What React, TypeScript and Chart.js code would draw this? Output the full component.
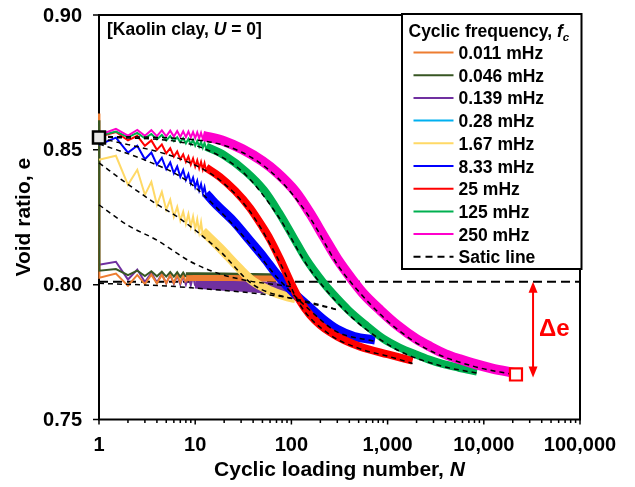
import React, { useEffect, useRef } from 'react';
import { Chart, registerables } from 'chart.js';
Chart.register(...registerables);

// ---------- axis ticks ----------
const X_TICKS = [1, 10, 100, 1000, 10000, 100000];
const X_TICK_LABELS = ['1', '10', '100', '1,000', '10,000', '100,000'];
const Y_TICKS = [0.75, 0.8, 0.85, 0.9];
const Y_TICK_LABELS = ['0.75', '0.80', '0.85', '0.90'];

// ---------- legend ----------
const LEGEND_TITLE = 'Cyclic frequency, ';
const LEGEND_LABELS = ['0.011 mHz', '0.046 mHz', '0.139 mHz', '0.28 mHz', '1.67 mHz', '8.33 mHz', '25 mHz', '125 mHz', '250 mHz'];
const SERIES_COLORS = ['#ED7D31', '#375623', '#7030A0', '#00B0F0', '#FFD966', '#0000FF', '#FF0000', '#00B050', '#FF00CC'];
const STATIC_LABEL = 'Satic line';

// ---------- 0.011 mHz ----------
const F0011_ZIG_N = [1, 1.01, 1.5, 2, 2.5, 3, 3.5, 4, 4.5, 5, 5.5, 6, 6.5, 7, 7.5, 8];
const F0011_ZIG_E = [0.8635, 0.8026, 0.8041, 0.7996, 0.8036, 0.8002, 0.8037, 0.8004, 0.8037, 0.8005, 0.8037, 0.8006, 0.8037, 0.8007, 0.8036, 0.8008];
const F0011_BAND_N = [8, 15, 30, 50, 75, 97];
const F0011_BAND_E = [0.8024, 0.8025, 0.8024, 0.8023, 0.8022, 0.8022];

// ---------- 0.046 mHz ----------
const F0046_ZIG_N = [1, 1.01, 1.5, 2, 2.5, 3, 3.5, 4, 4.5, 5, 5.5, 6, 6.5, 7, 7.5, 8];
const F0046_ZIG_E = [0.861, 0.8052, 0.8058, 0.8035, 0.8052, 0.8032, 0.805, 0.8031, 0.8048, 0.803, 0.8047, 0.803, 0.8046, 0.8029, 0.8045, 0.8029];
const F0046_BAND_N = [8, 20, 40, 70];
const F0046_BAND_E = [0.8039, 0.8038, 0.8036, 0.8034];

// ---------- 0.139 mHz ----------
const F0139_ZIG_N = [1, 1.5, 2, 2.5, 3, 3.5, 4, 4.5, 5, 5.5, 6, 6.5, 7, 7.5, 8, 8.5, 9, 9.5, 10];
const F0139_ZIG_E = [0.8074, 0.8085, 0.8019, 0.8056, 0.801, 0.8044, 0.8008, 0.804, 0.8005, 0.8037, 0.8003, 0.8035, 0.8001, 0.8033, 0.8, 0.8031, 0.7998, 0.803, 0.7996];
const F0139_BAND_N = [10, 20, 40, 60, 80, 97];
const F0139_BAND_E = [0.8008, 0.8, 0.7993, 0.7988, 0.7985, 0.7985];

// ---------- 0.28 mHz ----------
const F028_BAND_N = [10, 40, 80];
const F028_BAND_E = [0.7995, 0.799, 0.7988];

// ---------- 1.67 mHz ----------
const F167_ZIG_N = [1, 1.5, 2, 2.5, 3, 3.5, 4, 4.5, 5, 5.5, 6, 6.5, 7, 7.5, 8, 8.5, 9, 9.5, 10, 10.5, 11, 11.5, 12];
const F167_ZIG_E = [0.8463, 0.8478, 0.837, 0.8426, 0.8333, 0.8381, 0.8296, 0.8344, 0.8278, 0.8315, 0.8252, 0.8288, 0.8238, 0.827, 0.8225, 0.8262, 0.8215, 0.8252, 0.8205, 0.8242, 0.8195, 0.8232, 0.8185];
const F167_BAND_N = [12, 18, 28, 40, 60, 85, 110];
const F167_BAND_E = [0.8198, 0.8137, 0.8065, 0.8012, 0.7978, 0.7958, 0.7948];

// ---------- 8.33 mHz ----------
const F833_ZIG_N = [1, 1.5, 2, 2.5, 3, 3.5, 4, 4.5, 5, 5.5, 6, 6.5, 7, 7.5, 8, 8.5, 9, 9.5, 10, 10.5, 11, 11.5, 12, 12.5, 13];
const F833_ZIG_E = [0.8519, 0.8545, 0.849, 0.8515, 0.8465, 0.849, 0.8445, 0.847, 0.8428, 0.8453, 0.8413, 0.8438, 0.84, 0.8425, 0.8388, 0.841, 0.8375, 0.8397, 0.8362, 0.8385, 0.835, 0.8373, 0.834, 0.8362, 0.833];
const F833_BAND_N = [13, 16, 25, 37, 52, 71, 100, 156, 220, 298, 450, 740];
const F833_BAND_E = [0.8338, 0.8302, 0.8235, 0.8163, 0.81, 0.8037, 0.7978, 0.7915, 0.7868, 0.7835, 0.7808, 0.7795];

// ---------- 25 mHz ----------
const F25_ZIG_N = [1, 1.5, 2, 2.5, 3, 3.5, 4, 4.5, 5, 5.5, 6, 6.5, 7, 7.5, 8, 8.5, 9, 9.5, 10, 10.5, 11, 11.5, 12, 12.5, 13];
const F25_ZIG_E = [0.8548, 0.8566, 0.8535, 0.8552, 0.8515, 0.8535, 0.85, 0.852, 0.8487, 0.8506, 0.8475, 0.8494, 0.8465, 0.8483, 0.8455, 0.8475, 0.8445, 0.8468, 0.8438, 0.8461, 0.8432, 0.8455, 0.8427, 0.845, 0.8421];
const F25_BAND_N = [13, 18, 26, 37, 50, 60, 76, 97, 123, 156, 200, 250, 350, 520, 1000, 1820];
const F25_BAND_E = [0.8434, 0.84, 0.8348, 0.8285, 0.8215, 0.8168, 0.8095, 0.8012, 0.794, 0.7888, 0.785, 0.7825, 0.7795, 0.777, 0.7742, 0.7718];

// ---------- 125 mHz ----------
const F125_ZIG_N = [1, 1.5, 2, 2.5, 3, 3.5, 4, 4.5, 5, 5.5, 6, 6.5, 7, 7.5, 8, 8.5, 9, 9.5, 10, 10.5, 11, 11.5, 12, 12.5, 13];
const F125_ZIG_E = [0.8552, 0.8568, 0.8547, 0.8563, 0.8543, 0.8559, 0.8539, 0.8555, 0.8535, 0.8551, 0.8532, 0.8547, 0.8528, 0.8543, 0.8524, 0.854, 0.852, 0.8537, 0.8516, 0.8533, 0.8512, 0.853, 0.8508, 0.8526, 0.8504];
const F125_BAND_N = [13, 20, 34, 52, 74, 104, 142, 214, 264, 394, 595, 900, 1310, 2000, 2700, 3660, 5500, 8500];
const F125_BAND_E = [0.8512, 0.848, 0.8418, 0.835, 0.8268, 0.8178, 0.8095, 0.8008, 0.797, 0.7905, 0.785, 0.78, 0.7768, 0.774, 0.7722, 0.7707, 0.7692, 0.7678];

// ---------- 250 mHz ----------
const F250_ZIG_N = [1, 1.5, 2, 2.5, 3, 3.5, 4, 4.5, 5, 5.5, 6, 6.5, 7, 7.5, 8, 8.5, 9, 9.5, 10, 10.5, 11, 11.5, 12];
const F250_ZIG_E = [0.8555, 0.8578, 0.8553, 0.8574, 0.8552, 0.8573, 0.8551, 0.8572, 0.855, 0.8571, 0.8549, 0.857, 0.8548, 0.8569, 0.8547, 0.8568, 0.8546, 0.8566, 0.8544, 0.8565, 0.8543, 0.8563, 0.8541];
const F250_BAND_N = [12, 20, 31, 50, 71, 110, 156, 220, 300, 447, 556, 840, 1255, 2000, 2770, 4000, 5650, 7700, 12000, 21600];
const F250_BAND_E = [0.8552, 0.8532, 0.8502, 0.8458, 0.8415, 0.8345, 0.8265, 0.8175, 0.8095, 0.801, 0.7968, 0.7905, 0.785, 0.7798, 0.777, 0.7742, 0.7723, 0.7708, 0.769, 0.7672];

// ---------- static lines ----------
const S250_N = [1, 10, 31, 71, 156, 300, 447, 840, 1255, 2770, 7700, 21600];
const S250_E = [0.855, 0.8537, 0.849, 0.8398, 0.8248, 0.8075, 0.7995, 0.789, 0.7835, 0.7755, 0.7698, 0.7665];
const S125_N = [1, 8, 20, 34, 74, 142, 214, 394, 595, 1310, 3660, 8500];
const S125_E = [0.8548, 0.8525, 0.8468, 0.8405, 0.825, 0.8078, 0.7993, 0.789, 0.7835, 0.7755, 0.7698, 0.7672];
const S25_N = [1, 8, 18, 37, 76, 123, 250, 520, 1000, 1820];
const S25_E = [0.8545, 0.8458, 0.8388, 0.8272, 0.8082, 0.7925, 0.7815, 0.7762, 0.7735, 0.7708];
const S833_N = [1, 3, 8, 16, 37, 71, 156, 298, 740];
const S833_E = [0.8522, 0.8462, 0.8388, 0.8292, 0.8152, 0.8027, 0.7905, 0.7825, 0.779];
const S167_N = [1, 2, 4, 6.5, 18, 40, 110, 300];
const S167_E = [0.8452, 0.8372, 0.8298, 0.8252, 0.8125, 0.8, 0.7945, 0.7907];
const S028_N = [1, 2, 4, 9, 18, 35, 70, 100];
const S028_E = [0.8296, 0.822, 0.8165, 0.8085, 0.804, 0.8015, 0.8, 0.7993];
const SLOW_N = [1, 5, 18, 50, 100, 200, 300];
const SLOW_E = [0.8005, 0.7995, 0.798, 0.7965, 0.795, 0.7925, 0.7907];

// ---------- reference level, markers, annotation ----------
const REF_N = [1, 100000];
const REF_E = [0.8011, 0.8011];
const START_N = [1];
const START_E = [0.8546];
const END_N = [21600];
const END_E = [0.7667];
const ARROW_N = 32500;
const ARROW_TOP_E = 0.8011;
const ARROW_BOTTOM_E = 0.7656;
const DELTA_LABEL_E = 0.7833;

const FONT = '"Liberation Sans", Arial, sans-serif';
const bold = (px: number) => `bold ${px}px ${FONT}`;
const boldIt = (px: number) => `italic bold ${px}px ${FONT}`;

type Run = { text: string; font: string; dy?: number };
function drawRuns(ctx: CanvasRenderingContext2D, runs: Run[], x: number, y: number, align: 'left' | 'center' = 'left') {
  ctx.textAlign = 'left';
  let total = 0;
  for (const r of runs) { ctx.font = r.font; total += ctx.measureText(r.text).width; }
  let cx = align === 'center' ? x - total / 2 : x;
  for (const r of runs) {
    ctx.font = r.font;
    ctx.fillText(r.text, cx, y + (r.dy || 0));
    cx += ctx.measureText(r.text).width;
  }
}

const pts = (ns: number[], es: number[]) => ns.map((n, i) => ({ x: n, y: es[i] }));

export default function App() {
  const ref = useRef<HTMLCanvasElement>(null);
  useEffect(() => {
    const canvas = ref.current!;
    const datasets: any[] = [];
    const add = (ds: any) => { datasets.push({ ...ds, order: -datasets.length }); };
    const zig = (ns: number[], es: number[], color: string) =>
      add({ data: pts(ns, es), borderColor: color, backgroundColor: color, borderWidth: 2, pointRadius: 0, tension: 0, clip: false, borderJoinStyle: 'miter' });
    const band = (ns: number[], es: number[], color: string, w: number) =>
      add({ data: pts(ns, es), borderColor: color, backgroundColor: color, borderWidth: w, pointRadius: 0, cubicInterpolationMode: 'monotone', clip: false, borderCapStyle: 'butt', borderJoinStyle: 'round' });
    const stat = (ns: number[], es: number[]) =>
      add({ data: pts(ns, es), borderColor: '#000', borderWidth: 1.5, borderDash: [5, 4], pointRadius: 0, cubicInterpolationMode: 'monotone', clip: false });

    add({ data: pts(REF_N, REF_E), borderColor: '#000', borderWidth: 2, borderDash: [9, 5], pointRadius: 0, clip: false });
    band(F028_BAND_N, F028_BAND_E, SERIES_COLORS[3], 4);
    zig(F0139_ZIG_N, F0139_ZIG_E, SERIES_COLORS[2]);
    band(F0139_BAND_N, F0139_BAND_E, SERIES_COLORS[2], 12);
    band(F0046_BAND_N, F0046_BAND_E, SERIES_COLORS[1], 4);
    zig(F0011_ZIG_N, F0011_ZIG_E, SERIES_COLORS[0]);
    band(F0011_BAND_N, F0011_BAND_E, SERIES_COLORS[0], 6);
    zig(F0046_ZIG_N, F0046_ZIG_E, SERIES_COLORS[1]);
    zig(F167_ZIG_N, F167_ZIG_E, SERIES_COLORS[4]);
    band(F167_BAND_N, F167_BAND_E, SERIES_COLORS[4], 9);
    zig(F833_ZIG_N, F833_ZIG_E, SERIES_COLORS[5]);
    band(F833_BAND_N, F833_BAND_E, SERIES_COLORS[5], 9);
    zig(F25_ZIG_N, F25_ZIG_E, SERIES_COLORS[6]);
    band(F25_BAND_N, F25_BAND_E, SERIES_COLORS[6], 8);
    zig(F125_ZIG_N, F125_ZIG_E, SERIES_COLORS[7]);
    band(F125_BAND_N, F125_BAND_E, SERIES_COLORS[7], 8);
    zig(F250_ZIG_N, F250_ZIG_E, SERIES_COLORS[8]);
    band(F250_BAND_N, F250_BAND_E, SERIES_COLORS[8], 10);
    stat(SLOW_N, SLOW_E);
    stat(S028_N, S028_E);
    stat(S167_N, S167_E);
    stat(S833_N, S833_E);
    stat(S25_N, S25_E);
    stat(S125_N, S125_E);
    stat(S250_N, S250_E);
    add({ data: pts(START_N, START_E), showLine: false, pointStyle: 'rect', pointRadius: 8.5, borderWidth: 2.5, borderColor: '#000', backgroundColor: '#E7E6E6', clip: false });
    add({ data: pts(END_N, END_E), showLine: false, pointStyle: 'rect', pointRadius: 8.5, borderWidth: 2.2, borderColor: '#FF0000', backgroundColor: '#FFFFFF', clip: false });

    const custom = {
      id: 'custom',
      beforeDraw(chart: any) {
        const ctx = chart.ctx;
        ctx.save();
        ctx.fillStyle = '#fff';
        ctx.fillRect(0, 0, chart.width, chart.height);
        ctx.restore();
      },
      beforeDatasetsDraw(chart: any) {
        const ctx: CanvasRenderingContext2D = chart.ctx;
        const { left, right, top, bottom } = chart.chartArea;
        const xs = chart.scales.x, ys = chart.scales.y;
        ctx.save();
        ctx.strokeStyle = '#000';
        ctx.lineWidth = 2;
        ctx.strokeRect(left, top, right - left, bottom - top);
        ctx.lineWidth = 1.5;
        ctx.beginPath();
        Y_TICKS.forEach((v) => { const y = ys.getPixelForValue(v); ctx.moveTo(left - 6, y); ctx.lineTo(left, y); });
        X_TICKS.forEach((v) => { const x = xs.getPixelForValue(v); ctx.moveTo(x, bottom); ctx.lineTo(x, bottom + 5); });
        for (let d = 0; d < X_TICKS.length - 1; d++) {
          for (let k = 2; k <= 9; k++) {
            const x = xs.getPixelForValue(X_TICKS[d] * k);
            ctx.moveTo(x, bottom); ctx.lineTo(x, bottom + 3.5);
          }
        }
        ctx.stroke();
        ctx.fillStyle = '#000';
        ctx.font = bold(20);
        ctx.textBaseline = 'middle';
        ctx.textAlign = 'right';
        Y_TICKS.forEach((v, i) => ctx.fillText(Y_TICK_LABELS[i], left - 17, ys.getPixelForValue(v) + 1));
        ctx.textAlign = 'center';
        ctx.textBaseline = 'alphabetic';
        X_TICKS.forEach((v, i) => ctx.fillText(X_TICK_LABELS[i], xs.getPixelForValue(v), bottom + 31));
        drawRuns(ctx, [{ text: 'Cyclic loading number, ', font: bold(21) }, { text: 'N', font: boldIt(21) }], (left + right) / 2, 476, 'center');
        ctx.save();
        ctx.translate(24, (top + bottom) / 2);
        ctx.rotate(-Math.PI / 2);
        ctx.textAlign = 'center';
        ctx.textBaseline = 'middle';
        ctx.font = bold(21);
        ctx.fillText('Void ratio, e', 0, 0);
        ctx.restore();
        ctx.textBaseline = 'alphabetic';
        drawRuns(ctx, [{ text: '[Kaolin clay, ', font: bold(17.5) }, { text: 'U', font: boldIt(17.5) }, { text: ' = 0]', font: bold(17.5) }], left + 8, top + 20);
        ctx.restore();
      },
      afterDraw(chart: any) {
        const ctx: CanvasRenderingContext2D = chart.ctx;
        const { right, top } = chart.chartArea;
        const xs = chart.scales.x, ys = chart.scales.y;
        ctx.save();
        const ax = xs.getPixelForValue(ARROW_N);
        const y1 = ys.getPixelForValue(ARROW_TOP_E);
        const y2 = ys.getPixelForValue(ARROW_BOTTOM_E);
        ctx.strokeStyle = '#FF0000';
        ctx.fillStyle = '#FF0000';
        ctx.lineWidth = 2;
        ctx.beginPath(); ctx.moveTo(ax, y1 + 8); ctx.lineTo(ax, y2 - 8); ctx.stroke();
        ctx.beginPath(); ctx.moveTo(ax, y1); ctx.lineTo(ax - 4.5, y1 + 11); ctx.lineTo(ax + 4.5, y1 + 11); ctx.closePath(); ctx.fill();
        ctx.beginPath(); ctx.moveTo(ax, y2); ctx.lineTo(ax - 4.5, y2 - 11); ctx.lineTo(ax + 4.5, y2 - 11); ctx.closePath(); ctx.fill();
        ctx.font = bold(24);
        ctx.textAlign = 'left';
        ctx.textBaseline = 'middle';
        ctx.fillText('\u0394e', ax + 6, ys.getPixelForValue(DELTA_LABEL_E));
        const bx = right - 178, by = top - 1, bw = 179.5, bh = 255;
        ctx.fillStyle = '#fff';
        ctx.fillRect(bx, by, bw, bh);
        ctx.strokeStyle = '#000';
        ctx.lineWidth = 2;
        ctx.strokeRect(bx, by, bw, bh);
        ctx.fillStyle = '#000';
        ctx.textBaseline = 'alphabetic';
        drawRuns(ctx, [
          { text: LEGEND_TITLE, font: bold(17.5) },
          { text: 'f', font: boldIt(17.5) },
          { text: 'c', font: boldIt(11.5), dy: 4 },
        ], bx + 6.5, by + 23);
        const rows = [...LEGEND_LABELS, STATIC_LABEL];
        rows.forEach((label, i) => {
          const base = by + 45 + i * 22.7;
          const ly = base - 6.5;
          ctx.beginPath();
          ctx.lineWidth = 2;
          if (i < LEGEND_LABELS.length) {
            ctx.strokeStyle = SERIES_COLORS[i];
            ctx.setLineDash([]);
          } else {
            ctx.strokeStyle = '#000';
            ctx.setLineDash([7, 5]);
          }
          ctx.moveTo(bx + 11.5, ly); ctx.lineTo(bx + 51.5, ly);
          ctx.stroke();
          ctx.setLineDash([]);
          ctx.fillStyle = '#000';
          ctx.font = bold(17.5);
          ctx.textAlign = 'left';
          ctx.fillText(label, bx + 56.5, base);
        });
        ctx.restore();
      },
    };

    const chart = new Chart(canvas, {
      type: 'line',
      data: { datasets },
      options: {
        responsive: false,
        animation: false,
        devicePixelRatio: 1,
        events: [],
        layout: { padding: { left: 99, top: 15, right: 55, bottom: 67.5 } },
        plugins: { legend: { display: false }, tooltip: { enabled: false } },
        scales: {
          x: { type: 'logarithmic', min: 1, max: 100000, display: false },
          y: { type: 'linear', min: 0.75, max: 0.9, display: false },
        },
      },
      plugins: [custom],
    } as any);
    return () => chart.destroy();
  }, []);
  return (
    <div style={{ position: 'fixed', left: 0, top: 0, width: 635, height: 487, background: '#fff' }}>
      <canvas ref={ref} width={635} height={487} style={{ width: '635px', height: '487px', display: 'block' }} />
    </div>
  );
}
